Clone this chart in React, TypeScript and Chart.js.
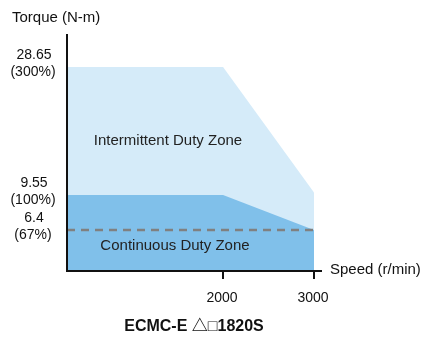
import React, { useEffect, useRef } from "react";
import { Chart, registerables, LinearScale } from "chart.js";

Chart.register(...registerables);

// ---- Data ----
const speedBreaks = [0, 2000, 3000, 3100];
const torqueTicks = [6.4, 9.55, 28.65];
const torqueTickPercent = ["(67%)", "(100%)", "(300%)"];
const torqueBreaks = [0, 6.4, 9.55, 28.65, 33];
const speedTicks = [0, 2000, 3000];
const intermittentTorque = [28.65, 28.65, 9.9];
const continuousTorque = [9.55, 9.55, 6.4];
const ratedTorque = [6.4, 6.4, 6.4];
const zoneLabels = ["Intermittent Duty Zone", "Continuous Duty Zone"];
const chartTitle = "ECMC-E \u25B3\u25A11820S";
const yTitle = "Torque (N-m)";
const xTitle = "Speed (r/min)";

// Schematic (non-uniform) axis: fractions along the axis for each break value
const speedFractions = [0, 0.612, 0.969, 1];
const torqueFractions = [0, 0.169, 0.318, 0.86, 1];

class PiecewiseScale extends LinearScale {
  static id = "piecewise";
  static defaults = (LinearScale as any).defaults;
  mapFrac(v: number) {
    const b: number[] = (this.options as any).breaks;
    const f: number[] = (this.options as any).fractions;
    if (v <= b[0]) return f[0];
    for (let i = 1; i < b.length; i++) {
      if (v <= b[i]) return f[i - 1] + ((v - b[i - 1]) / (b[i] - b[i - 1])) * (f[i] - f[i - 1]);
    }
    return f[f.length - 1];
  }
  getPixelForValue(value: number) {
    if (value === null || value === undefined || isNaN(value)) return NaN;
    return this.getPixelForDecimal(this.mapFrac(value));
  }
  getValueForPixel(pixel: number) {
    const d = this.getDecimalForPixel(pixel);
    const b: number[] = (this.options as any).breaks;
    const f: number[] = (this.options as any).fractions;
    for (let i = 1; i < f.length; i++) {
      if (d <= f[i]) return b[i - 1] + ((d - f[i - 1]) / (f[i] - f[i - 1])) * (b[i] - b[i - 1]);
    }
    return b[b.length - 1];
  }
}
Chart.register(PiecewiseScale as any);

const FONT = "'Liberation Sans', Arial, 'Noto Sans CJK SC', sans-serif";

const overlayPlugin = {
  id: "overlay",
  afterDraw(chart: any) {
    const ctx = chart.ctx;
    const xs = chart.scales.x;
    const ys = chart.scales.y;
    const x0 = xs.getPixelForValue(speedBreaks[0]);
    const xEnd = xs.right;
    const y0 = ys.getPixelForValue(0);
    const yTop = ys.top;
    ctx.save();
    // axes
    ctx.strokeStyle = "#111";
    ctx.lineWidth = 2;
    ctx.beginPath();
    ctx.moveTo(x0, yTop);
    ctx.lineTo(x0, y0 + 1);
    ctx.lineTo(xEnd, y0 + 1);
    ctx.stroke();
    // x ticks
    ctx.fillStyle = "#111";
    ctx.font = `14px ${FONT}`;
    ctx.textAlign = "center";
    ctx.textBaseline = "middle";
    speedTicks.slice(1).forEach((v) => {
      const px = Math.round(xs.getPixelForValue(v));
      ctx.beginPath();
      ctx.moveTo(px, y0);
      ctx.lineTo(px, y0 + 9);
      ctx.stroke();
      ctx.fillText(String(v), px - 1, y0 + 28);
    });
    // y tick labels
    torqueTicks.forEach((v, i) => {
      const py = ys.getPixelForValue(v);
      ctx.fillText(String(v), 34, py - 12);
      ctx.fillText(torqueTickPercent[i], 33, py + 5);
    });
    // axis titles
    ctx.font = `15px ${FONT}`;
    ctx.textAlign = "left";
    ctx.fillText(yTitle, 12, 18);
    ctx.fillText(xTitle, xEnd + 8, y0);
    // zone labels
    ctx.textAlign = "center";
    ctx.fillStyle = "#222";
    ctx.fillText(zoneLabels[0], 168, 141);
    ctx.fillText(zoneLabels[1], 175, 246);
    // title
    ctx.fillStyle = "#111";
    ctx.font = `bold 16px ${FONT}`;
    ctx.fillText(chartTitle, 194, 327);
    ctx.restore();
  },
};

export default function App() {
  const ref = useRef<HTMLCanvasElement>(null);
  useEffect(() => {
    const pts = (arr: number[]) => arr.map((y, i) => ({ x: speedTicks[i], y }));
    const chart = new Chart(ref.current as HTMLCanvasElement, {
      type: "line",
      data: {
        datasets: [
          {
            data: pts(ratedTorque),
            borderColor: "#808080",
            borderWidth: 2.5,
            borderDash: [8, 6],
            fill: false,
            pointRadius: 0,
          },
          {
            data: pts(continuousTorque),
            borderWidth: 0,
            backgroundColor: "#80c0ea",
            fill: "origin",
            pointRadius: 0,
          },
          {
            data: pts(intermittentTorque),
            borderWidth: 0,
            backgroundColor: "#d5ebf9",
            fill: "origin",
            pointRadius: 0,
          },
        ],
      },
      options: {
        animation: false,
        responsive: false,
        layout: { padding: { left: 67, right: 100, top: 34, bottom: 68 } },
        plugins: { legend: { display: false }, tooltip: { enabled: false } },
        scales: {
          x: {
            type: "piecewise" as any,
            min: speedBreaks[0],
            max: speedBreaks[speedBreaks.length - 1],
            display: false,
            breaks: speedBreaks,
            fractions: speedFractions,
          } as any,
          y: {
            type: "piecewise" as any,
            min: torqueBreaks[0],
            max: torqueBreaks[torqueBreaks.length - 1],
            display: false,
            breaks: torqueBreaks,
            fractions: torqueFractions,
          } as any,
        },
      },
      plugins: [overlayPlugin],
    });
    return () => chart.destroy();
  }, []);
  return (
    <div style={{ position: "fixed", left: 0, top: 0, width: 422, height: 338, background: "#fff" }}>
      <canvas ref={ref} width={422} height={338} style={{ display: "block" }} />
    </div>
  );
}
